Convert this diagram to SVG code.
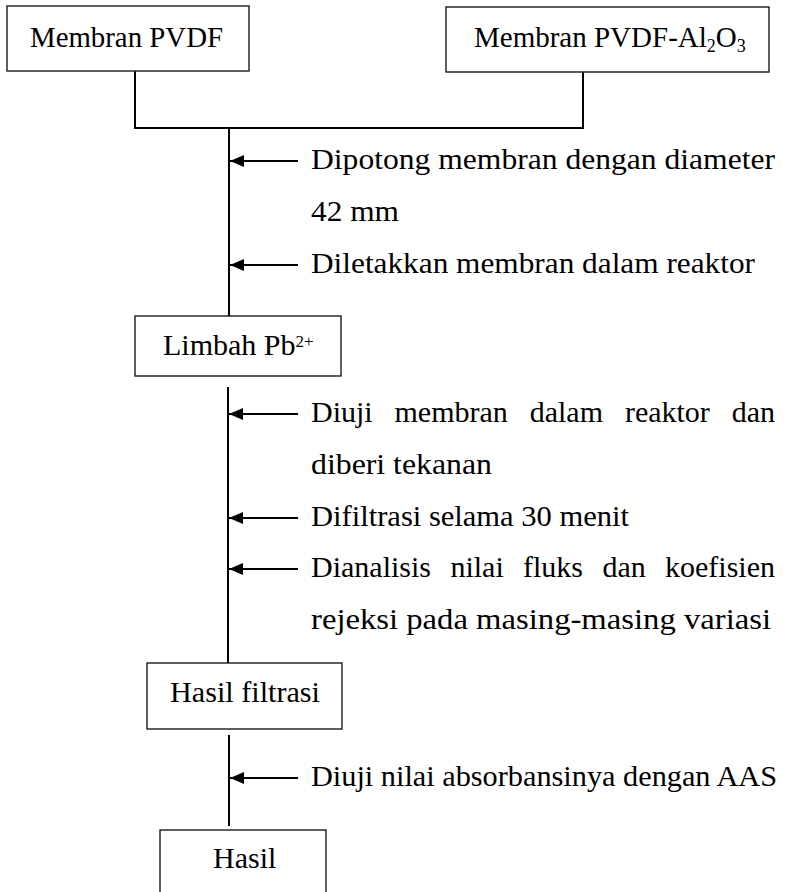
<svg xmlns="http://www.w3.org/2000/svg" width="788" height="892" viewBox="0 0 788 892">
<style>
.box{fill:#fff;stroke:#1a1a1a;stroke-width:1.4}
.ln{stroke:#000;stroke-width:2;fill:none}
.ar{stroke:#000;stroke-width:2;fill:none;marker-end:url(#ah)}
text{font-family:"Liberation Serif","Times New Roman",serif;font-size:30px;fill:#000}
.sub{font-size:18px}
.sup{font-size:17px}
</style>
<defs>
<marker id="ah" markerUnits="userSpaceOnUse" markerWidth="14" markerHeight="12" refX="14" refY="6" orient="auto">
<path d="M0,0 L14,6 L0,12 z" fill="#000"/>
</marker>
</defs>
<rect width="788" height="892" fill="#fff"/>
<g id="connectors">
<polyline class="ln" points="135,71 135,128 583,128 583,72"/>
<line class="ln" x1="229" y1="128" x2="229" y2="316"/>
<line class="ln" x1="228" y1="387" x2="228" y2="663"/>
<line class="ln" x1="229" y1="735" x2="229" y2="826"/>
<line class="ar" x1="298" y1="161" x2="230" y2="161"/>
<line class="ar" x1="298" y1="265" x2="230" y2="265"/>
<line class="ar" x1="298" y1="414" x2="229" y2="414"/>
<line class="ar" x1="298" y1="518" x2="229" y2="518"/>
<line class="ar" x1="298" y1="569" x2="229" y2="569"/>
<line class="ar" x1="298" y1="778" x2="230" y2="778"/>
</g>
<g id="node-pvdf">
<rect class="box" x="7" y="6" width="242" height="65"/>
<text x="30" y="47" textLength="193" lengthAdjust="spacingAndGlyphs">Membran PVDF</text>
</g>
<g id="node-pvdf-al2o3">
<rect class="box" x="446" y="7" width="323" height="65"/>
<text x="474" y="47" style="font-size:29px">Membran PVDF-Al<tspan class="sub" dy="5">2</tspan><tspan dy="-5">O</tspan><tspan class="sub" dy="5">3</tspan></text>
</g>
<g id="labels-step1">
<text x="311" y="169" textLength="464" lengthAdjust="spacingAndGlyphs">Dipotong membran dengan diameter</text>
<text x="311" y="221" textLength="88" lengthAdjust="spacingAndGlyphs">42 mm</text>
<text x="311" y="273" textLength="444" lengthAdjust="spacingAndGlyphs">Diletakkan membran dalam reaktor</text>
</g>
<g id="node-limbah">
<rect class="box" x="135" y="316" width="206" height="60"/>
<text x="163" y="355">Limbah Pb<tspan class="sup" dy="-8">2+</tspan></text>
</g>
<g id="labels-step2">
<text y="422"><tspan x="311">Diuji </tspan><tspan x="394.5">membran </tspan><tspan x="529.7">dalam </tspan><tspan x="624.9">reaktor </tspan><tspan x="731.7">dan</tspan></text>
<text x="311" y="474" textLength="181" lengthAdjust="spacingAndGlyphs">diberi tekanan</text>
<text x="311" y="526" textLength="318" lengthAdjust="spacingAndGlyphs">Difiltrasi selama 30 menit</text>
<text y="577"><tspan x="311">Dianalisis </tspan><tspan x="450.4">nilai </tspan><tspan x="523">fluks </tspan><tspan x="602.4">dan </tspan><tspan x="665">koefisien</tspan></text>
<text x="311" y="629" textLength="460" lengthAdjust="spacingAndGlyphs">rejeksi pada masing-masing variasi</text>
</g>
<g id="node-hasil-filtrasi">
<rect class="box" x="147" y="663" width="195" height="66"/>
<text x="170" y="702" textLength="150" lengthAdjust="spacingAndGlyphs">Hasil filtrasi</text>
</g>
<g id="labels-step3">
<text x="311" y="786" textLength="466" lengthAdjust="spacingAndGlyphs">Diuji nilai absorbansinya dengan AAS</text>
</g>
<g id="node-hasil">
<rect class="box" x="160" y="830" width="166" height="80"/>
<text x="213" y="868">Hasil</text>
</g>
</svg>
